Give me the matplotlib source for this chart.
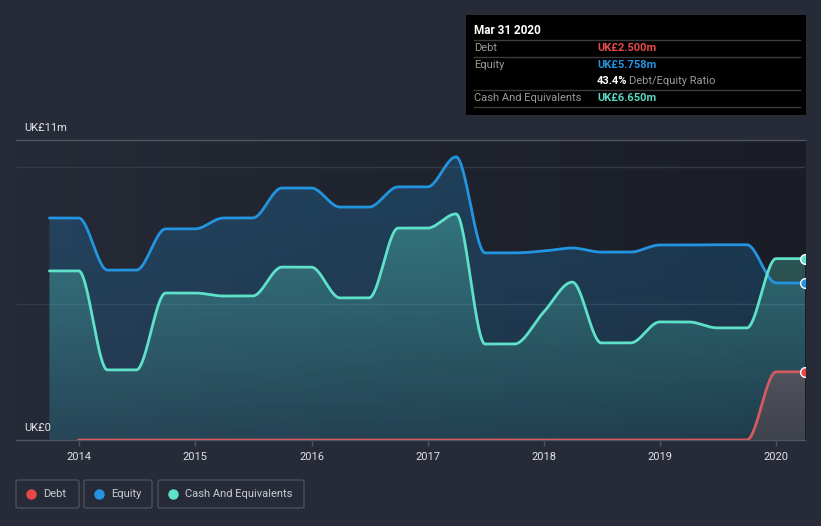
import numpy as np
import pandas as pd
import matplotlib
matplotlib.use("Agg")
from matplotlib import pyplot as plt
from matplotlib.colors import to_rgb
from matplotlib.patches import Rectangle, FancyBboxPatch
from matplotlib.lines import Line2D
from matplotlib.transforms import blended_transform_factory

plt.rcParams["font.family"] = ["Roboto", "DejaVu Sans"]

# quarter ends, Sep 2013 .. Mar 2020 (values in UK£ m)
dates = pd.date_range("2013-09-30", "2020-03-31", freq="QE")
equity = [8.14, 8.14, 6.23, 6.23, 7.74, 7.74, 8.14, 8.14, 9.24, 9.24,
          8.54, 8.54, 9.28, 9.28, 10.38, 6.86, 6.86, 6.93, 7.04, 6.89,
          6.89, 7.15, 7.15, 7.16, 7.16, 5.758, 5.758]
cash = [6.20, 6.20, 2.57, 2.57, 5.39, 5.39, 5.28, 5.28, 6.34, 6.34,
        5.21, 5.21, 7.77, 7.77, 8.29, 3.52, 3.52, 4.69, 5.79, 3.56,
        3.56, 4.33, 4.33, 4.11, 4.11, 6.65, 6.65]
debt = [None, 0, 0, 0, 0, 0, 0, 0, 0, 0,
        0, 0, 0, 0, 0, 0, 0, 0, 0, 0,
        0, 0, 0, 0, 0, 2.5, 2.5]
year_ticks = [2014, 2015, 2016, 2017, 2018, 2019, 2020]

BG = "#262b37"
C_DEBT, C_EQ, C_CASH = "#d35a5f", "#2394df", "#5fe0c8"

W, H = 821, 526


def dec_year(d):
    d = pd.Timestamp(d)
    n = 366 if d.is_leap_year else 365
    return d.year + (d.dayofyear - 1) / n


def monotone(x, y, xs):
    # monotone cubic (Fritsch-Carlson) for smooth line drawing
    x = np.asarray(x, float)
    y = np.asarray(y, float)
    h = np.diff(x)
    d = np.diff(y) / h
    m = np.zeros(len(x))
    for k in range(1, len(x) - 1):
        if d[k - 1] * d[k] > 0:
            w1 = 2 * h[k] + h[k - 1]
            w2 = h[k] + 2 * h[k - 1]
            m[k] = (w1 + w2) / (w1 / d[k - 1] + w2 / d[k])
    i = np.clip(np.searchsorted(x, xs) - 1, 0, len(x) - 2)
    t = (xs - x[i]) / h[i]
    h00 = 2 * t**3 - 3 * t**2 + 1
    h10 = t**3 - 2 * t**2 + t
    h01 = -2 * t**3 + 3 * t**2
    h11 = t**3 - t**2
    return h00 * y[i] + h10 * h[i] * m[i] + h01 * y[i + 1] + h11 * h[i] * m[i + 1]


def grad_fill(ax, xs, ys, c_top, c_bot, a_top, a_bot, top, z):
    poly = ax.fill_between(xs, 0, ys, facecolor="none", edgecolor="none")
    t = np.linspace(0, 1, 256)[:, None]
    img = np.zeros((256, 1, 4))
    img[:, 0, :3] = np.array(to_rgb(c_top)) * (1 - t) + np.array(to_rgb(c_bot)) * t
    img[:, 0, 3] = a_top * (1 - t[:, 0]) + a_bot * t[:, 0]
    im = ax.imshow(img, extent=[xs[0], xs[-1], 0, top], aspect="auto",
                   origin="upper", zorder=z, interpolation="bilinear")
    im.set_clip_path(poly.get_paths()[0], transform=ax.transData)


fig = plt.figure(figsize=(W / 100, H / 100), dpi=100)
fig.patch.set_facecolor(BG)


def fx(px):
    return px / W


def fy(py):
    return 1 - py / H


ax = fig.add_axes([fx(16), fy(440), fx(805) - fx(16), (440 - 140) / H])
ax.set_facecolor(BG)

# background shading of the plot area
bg = np.zeros((2, 256, 3))
left, right = np.array(to_rgb("#252a36")), np.array(to_rgb("#1a1d25"))
for j, t in enumerate(np.linspace(0, 1, 256)):
    bg[:, j, :] = left * (1 - t) + right * t
ax.imshow(bg, extent=[0, 1, 0, 1], transform=ax.transAxes, aspect="auto",
          zorder=0, interpolation="bilinear")

xd = np.array([dec_year(d) for d in dates])
xs = np.linspace(xd[0], xd[-1], 2000)
eq_s = monotone(xd, equity, xs)
cash_s = monotone(xd, cash, xs)

dmask = np.array([v is not None for v in debt])
xdd = xd[dmask]
dvals = np.array([v for v in debt if v is not None], float)
xs_d = np.linspace(xdd[0], xdd[-1], 2000)
debt_s = monotone(xdd, dvals, xs_d)

grad_fill(ax, xs, eq_s, C_EQ, C_EQ, 0.26, 0.16, 10.4, 1)
grad_fill(ax, xs, cash_s, "#58d8c2", "#58d8c2", 0.36, 0.08, 8.3, 2)
grad_fill(ax, xs_d, debt_s, "#50525c", "#3f434d", 1.0, 1.0, 2.5, 3)

ax.plot(xs, eq_s, color=C_EQ, lw=2.0, zorder=5, solid_capstyle="round")
ax.plot(xs, cash_s, color=C_CASH, lw=2.0, zorder=6, solid_capstyle="round")
ax.plot(xs_d, debt_s, color=C_DEBT, lw=2.0, zorder=7, solid_capstyle="round")

ax.plot([xd[-1]], [equity[-1]], "o", ms=7, color=C_EQ, mec="white", mew=1, zorder=9)
ax.plot([xd[-1]], [cash[-1]], "o", ms=7, color=C_CASH, mec="white", mew=1, zorder=9)
ax.plot([xd[-1]], [dvals[-1]], "o", ms=7, color="#e5474b", mec="white", mew=1, zorder=9)

ax.set_xlim(dec_year("2013-06-17"), xd[-1])
ax.set_ylim(0, 11)

for v in (5, 10):
    ax.axhline(v, color="#343945", lw=1, zorder=0.5)

for s in ("left", "right"):
    ax.spines[s].set_visible(False)
ax.spines["top"].set_color("#50555f")
ax.spines["bottom"].set_color("#50555f")
ax.spines["top"].set_linewidth(1)
ax.spines["bottom"].set_linewidth(1)

ax.set_yticks([])
ax.set_xticks(year_ticks)
ax.set_xticklabels([str(y) for y in year_ticks])
ax.tick_params(axis="x", colors="#50555f", labelcolor="#e0e2e6", labelsize=8,
               length=4, width=1, pad=5)

tr = blended_transform_factory(ax.transAxes, ax.transData)
ax.annotate("UK£11m", xy=(0.01, 11), xycoords=tr, xytext=(0, 5),
            textcoords="offset points", color="#e6e8ec", fontsize=8, va="bottom")
ax.annotate("UK£0", xy=(0.01, 0), xycoords=tr, xytext=(0, 5),
            textcoords="offset points", color="#e6e8ec", fontsize=8, va="bottom")

# tooltip box
fig.add_artist(Rectangle((fx(466), fy(115)), fx(806) - fx(466), (115 - 15) / H,
                         transform=fig.transFigure, facecolor="black", edgecolor="none"))
for py in (40, 57, 90, 107):
    fig.add_artist(Line2D([fx(474), fx(800)], [fy(py), fy(py)], color="#3c3c3c", lw=1))
fig.text(fx(474), fy(31), "Mar 31 2020", color="white", fontsize=8.5,
         fontweight="bold", va="center")
rows = [("Debt", "UK£2.500m", "#e84a4a", 48),
        ("Equity", "UK£5.758m", "#2394df", 65),
        ("Cash And Equivalents", "UK£6.650m", "#5ad8c2", 98)]
for lab, val, col, py in rows:
    fig.text(fx(474), fy(py), lab, color="#9a9a9a", fontsize=8, va="center")
    fig.text(fx(597), fy(py), val, color=col, fontsize=8, fontweight="bold", va="center")
fig.text(fx(597), fy(81), "43.4%", color="white", fontsize=8, fontweight="bold", va="center")
fig.text(fx(629), fy(81), "Debt/Equity Ratio", color="#9a9a9a", fontsize=8, va="center")

# legend
legend = [("Debt", "#e5474b", 16, 79), ("Equity", "#2394df", 84, 152),
          ("Cash And Equivalents", "#5fe3cb", 158, 304)]
for lab, col, x0, x1 in legend:
    fig.add_artist(FancyBboxPatch((fx(x0), fy(508)), fx(x1) - fx(x0), 28 / H,
                                  boxstyle="round,pad=0,rounding_size=0.003",
                                  transform=fig.transFigure, facecolor="none",
                                  edgecolor="#4a4f5a", lw=1))
    fig.add_artist(Line2D([fx(x0 + 15)], [fy(494)], marker="o", ms=6.5,
                          color=col, mec=col, lw=0))
    fig.text(fx(x0 + 27), fy(494), lab, color="#c9ccd2", fontsize=8, va="center")

fig.savefig("out.png", dpi=100, facecolor=BG)
